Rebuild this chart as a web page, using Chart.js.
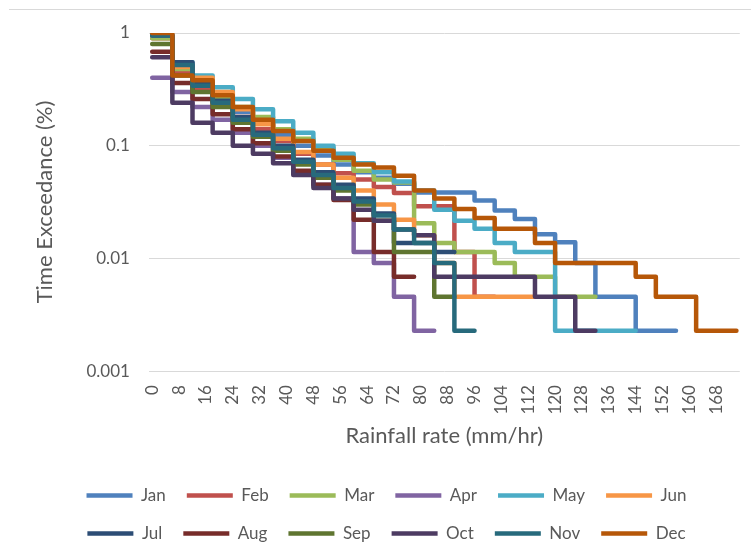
<!DOCTYPE html>
<html>
<head>
<meta charset="utf-8">
<script src="https://cdn.jsdelivr.net/npm/chart.js@4.4.1/dist/chart.umd.min.js"></script>
<style>
  html, body { margin: 0; padding: 0; background: #fff; }
  #wrap { position: relative; width: 751px; height: 547px; }
  #frame { position: absolute; left: 9px; right: 0; top: 9px; border-top: 1px solid #d9d9d9; }
</style>
</head>
<body>
<div id="wrap">
  <div id="frame"></div>
  <canvas id="myChart" width="751" height="547"></canvas>
</div>
<script>
// Rainfall rate bins (mm/hr)
const rates = [0, 6, 12, 18, 24, 30, 36, 42, 48, 54, 60, 66, 72, 78, 84, 90,
  96, 102, 108, 114, 120, 126, 132, 138, 144, 150, 156, 162, 168, 174];
const xTicks = [0, 8, 16, 24, 32, 40, 48, 56, 64, 72, 80, 88, 96, 104, 112,
  120, 128, 136, 144, 152, 160, 168];
const yTicks = [1, 0.1, 0.01, 0.001];

const months = ["Jan", "Feb", "Mar", "Apr", "May", "Jun",
  "Jul", "Aug", "Sep", "Oct", "Nov", "Dec"];
const colors = ["#4F81BD", "#C0504D", "#9BBB59", "#8064A2", "#4BACC6", "#F79646",
  "#2C4D75", "#772C2A", "#5F7530", "#4D3B62", "#276A7C", "#B65708"];

// Time exceedance (%) per bin, last value repeated where the curve stops
const jan = [0.95, 0.5, 0.35, 0.26, 0.2, 0.16, 0.125, 0.1, 0.082, 0.068, 0.058, 0.052, 0.046,
  0.0385, 0.0385, 0.0385, 0.0326, 0.0266, 0.0224, 0.0164, 0.0139, 0.0091, 0.00457, 0.00457,
  0.00228, 0.00228, 0.00228];
const feb = [0.9, 0.45, 0.32, 0.24, 0.18, 0.14, 0.11, 0.085, 0.068, 0.057, 0.05, 0.043, 0.038,
  0.029, 0.029, 0.0114, 0.00457, 0.00457];
const mar = [0.9, 0.48, 0.36, 0.27, 0.22, 0.18, 0.14, 0.115, 0.095, 0.075, 0.06, 0.05, 0.047,
  0.0205, 0.0137, 0.0114, 0.0114, 0.0091, 0.00685, 0.00685, 0.00457, 0.00457, 0.00457];
const apr = [0.4, 0.3, 0.22, 0.17, 0.13, 0.1, 0.078, 0.058, 0.045, 0.034, 0.0114, 0.0091,
  0.00457, 0.00228, 0.00228];
const may = [0.95, 0.55, 0.42, 0.33, 0.26, 0.21, 0.165, 0.13, 0.1, 0.085, 0.07, 0.058, 0.048,
  0.04, 0.027, 0.0216, 0.0183, 0.0137, 0.0114, 0.0114, 0.00228, 0.00228, 0.00228, 0.00228, 0.00228];
const jun = [0.95, 0.5, 0.4, 0.3, 0.21, 0.155, 0.115, 0.088, 0.068, 0.052, 0.04, 0.03, 0.022,
  0.016, 0.0091, 0.00457, 0.00457, 0.00457, 0.00457, 0.00457];
const jul = [0.95, 0.55, 0.36, 0.25, 0.18, 0.13, 0.1, 0.075, 0.058, 0.045, 0.034, 0.025, 0.0137,
  0.0137, 0.0114, 0.0114];
const aug = [0.68, 0.36, 0.26, 0.19, 0.14, 0.105, 0.08, 0.06, 0.045, 0.033, 0.022, 0.0114,
  0.00685, 0.00685];
const sep = [0.8, 0.42, 0.3, 0.22, 0.16, 0.12, 0.09, 0.068, 0.052, 0.04, 0.03, 0.0216, 0.0114,
  0.0114, 0.00457, 0.00457];
const oct = [0.61, 0.24, 0.16, 0.13, 0.1, 0.085, 0.07, 0.055, 0.042, 0.034, 0.027, 0.0216, 0.018,
  0.016, 0.00685, 0.00685, 0.00685, 0.00685, 0.00685, 0.00457, 0.00457, 0.00228, 0.00228];
const nov = [0.95, 0.52, 0.34, 0.24, 0.17, 0.125, 0.095, 0.072, 0.055, 0.042, 0.032, 0.024, 0.018,
  0.0137, 0.0091, 0.00228, 0.00228];
const dec = [1.0, 0.42, 0.38, 0.28, 0.22, 0.17, 0.135, 0.11, 0.09, 0.078, 0.068, 0.064, 0.054,
  0.04, 0.034, 0.0274, 0.0228, 0.0183, 0.0183, 0.0137, 0.0091, 0.0091, 0.0091, 0.0091, 0.00685,
  0.00457, 0.00457, 0.00228, 0.00228, 0.00228];

const series = [jan, feb, mar, apr, may, jun, jul, aug, sep, oct, nov, dec];

Chart.defaults.font.family = "Lato, 'Open Sans', sans-serif";
Chart.defaults.color = "#595959";

const datasets = series.map((values, i) => ({
  label: months[i],
  data: values.map((v, j) => ({ x: rates[j], y: v })),
  borderColor: colors[i],
  backgroundColor: colors[i],
  borderWidth: 4.5,
  borderJoinStyle: "round",
  borderCapStyle: "round",
  stepped: "before",
  pointRadius: 0,
  fill: false,
  order: series.length - 1 - i, // later months drawn on top, like Excel
}));

const ctx = document.getElementById("myChart").getContext("2d");

new Chart(ctx, {
  type: "line",
  data: { datasets: datasets },
  options: {
    responsive: false,
    animation: false,
    layout: { padding: { top: 33, right: 8, left: 30, bottom: -5 } },
    plugins: {
      tooltip: { enabled: false },
      legend: {
        position: "bottom",
        labels: {
          sort: (a, b) => a.datasetIndex - b.datasetIndex,
          usePointStyle: true,
          pointStyle: "line",
          pointStyleWidth: 46,
          padding: 21,
          color: "#595959",
          font: { size: 17 },
        },
      },
    },
    scales: {
      x: {
        type: "linear",
        min: -1,
        max: 175,
        afterBuildTicks: (axis) => {
          axis.ticks = xTicks.map((v) => ({ value: v }));
        },
        ticks: {
          minRotation: 90,
          maxRotation: 90,
          autoSkip: false,
          padding: 14,
          font: { size: 17 },
        },
        grid: { display: false, drawTicks: false },
        border: { display: false },
        title: {
          display: true,
          text: "Rainfall rate (mm/hr)",
          font: { size: 22 },
          padding: { top: -6, bottom: 17 },
        },
      },
      y: {
        type: "logarithmic",
        min: 0.001,
        max: 1,
        afterBuildTicks: (axis) => {
          axis.ticks = yTicks.map((v) => ({ value: v }));
        },
        ticks: {
          callback: (v) => String(v),
          padding: 19,
          font: { size: 17 },
        },
        grid: { color: "#d9d9d9", lineWidth: 1, drawTicks: false },
        border: { display: false },
        title: {
          display: true,
          text: "Time Exceedance (%)",
          font: { size: 22 },
          padding: { top: 2, bottom: 9 },
        },
      },
    },
  },
});
</script>
</body>
</html>
